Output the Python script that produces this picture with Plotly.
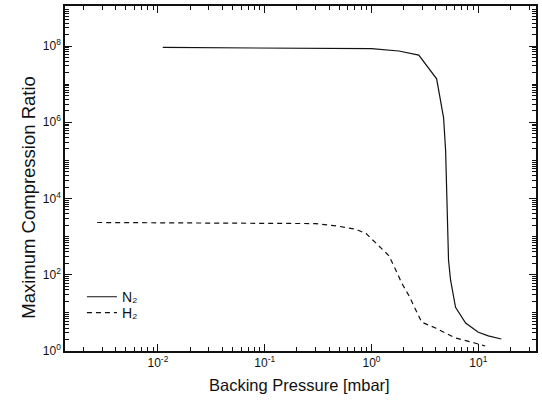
import plotly.graph_objects as go

# N2 data (Backing pressure [mbar], max compression ratio)
n2_p = [0.0111, 0.1, 1.0, 1.8, 2.77, 4.07, 4.73, 4.94, 5.26, 5.5, 6.12, 7.6, 10.0, 12.4, 16.4]
n2_k = [9.2e7, 9.0e7, 8.5e7, 7.4e7, 5.8e7, 1.38e7, 1.3e6, 1.8e5, 240, 72, 14, 5.4, 3.1, 2.5, 2.06]

# H2 data
h2_p = [0.0027, 0.05, 0.30, 0.50, 0.72, 0.89, 1.17, 1.45, 1.69, 1.92, 2.23, 2.59, 2.95, 3.98, 6.1, 9.4, 11.6]
h2_k = [2350, 2300, 2200, 1860, 1550, 1200, 590, 320, 132, 60, 29, 11.8, 5.7, 4.0, 2.2, 1.6, 1.35]

x_major = [1e-2, 1e-1, 1e0, 1e1]
x_labels = ["10<sup>-2</sup>", "10<sup>-1</sup>", "10<sup>0</sup>", "10<sup>1</sup>"]
y_major = [1e0, 1e2, 1e4, 1e6, 1e8]
y_labels = ["10<sup>0</sup>", "10<sup>2</sup>", "10<sup>4</sup>", "10<sup>6</sup>", "10<sup>8</sup>"]

x_minor = [m * 10.0 ** e for e in range(-3, 2) for m in range(1, 10)]
y_minor = [m * 10.0 ** e for e in range(0, 9) for m in range(1, 10)]

FONT = "Liberation Sans, Arial, sans-serif"

fig = go.Figure()
fig.add_trace(go.Scatter(x=n2_p, y=n2_k, mode="lines", name="N₂", legend="legend",
                         line=dict(color="#111111", width=1.2)))
fig.add_trace(go.Scatter(x=h2_p, y=h2_k, mode="lines", name="H₂", legend="legend2",
                         line=dict(color="#111111", width=1.2, dash="5px,4px")))

axis_common = dict(
    type="log", showgrid=False, zeroline=False, showline=True,
    linecolor="#111111", linewidth=1.5, mirror="allticks",
    ticks="inside", ticklen=7, tickwidth=1.3, tickcolor="#111111",
    tickfont=dict(family=FONT, size=12, color="#111111"),
)

fig.update_xaxes(
    **axis_common,
    range=[-2.87, 1.54],
    tickmode="array", tickvals=x_major, ticktext=x_labels,
    minor=dict(tickmode="array", tickvals=x_minor, ticks="inside", ticklen=4,
               tickwidth=1.2, tickcolor="#111111"),
)
fig.update_yaxes(
    **axis_common,
    range=[0, 9.05],
    tickmode="array", tickvals=y_major, ticktext=y_labels,
    minor=dict(tickmode="array", tickvals=y_minor, ticks="inside", ticklen=4,
               tickwidth=1.2, tickcolor="#111111"),
)

fig.add_annotation(text="Backing Pressure [mbar]", xref="paper", yref="paper",
                   x=0.497, y=-0.098, xanchor="center", yanchor="middle", showarrow=False,
                   font=dict(family=FONT, size=16.5, color="#111111"))
fig.add_annotation(text="Maximum Compression Ratio", xref="paper", yref="paper",
                   x=-0.078, y=0.445, xanchor="center", yanchor="middle", showarrow=False,
                   textangle=-90, font=dict(family=FONT, size=18.5, color="#111111"))

legend_style = dict(xanchor="left", yanchor="middle", bgcolor="rgba(0,0,0,0)",
                    font=dict(family=FONT, size=14, color="#111111"))

fig.update_layout(
    width=542, height=402,
    margin=dict(l=65, r=4, t=5, b=51),
    paper_bgcolor="white", plot_bgcolor="white",
    showlegend=True,
    legend=dict(x=0.036, y=(351 - 297) / 346, **legend_style),
    legend2=dict(x=0.036, y=(351 - 313) / 346, **legend_style),
)

fig.write_html("out.html")
